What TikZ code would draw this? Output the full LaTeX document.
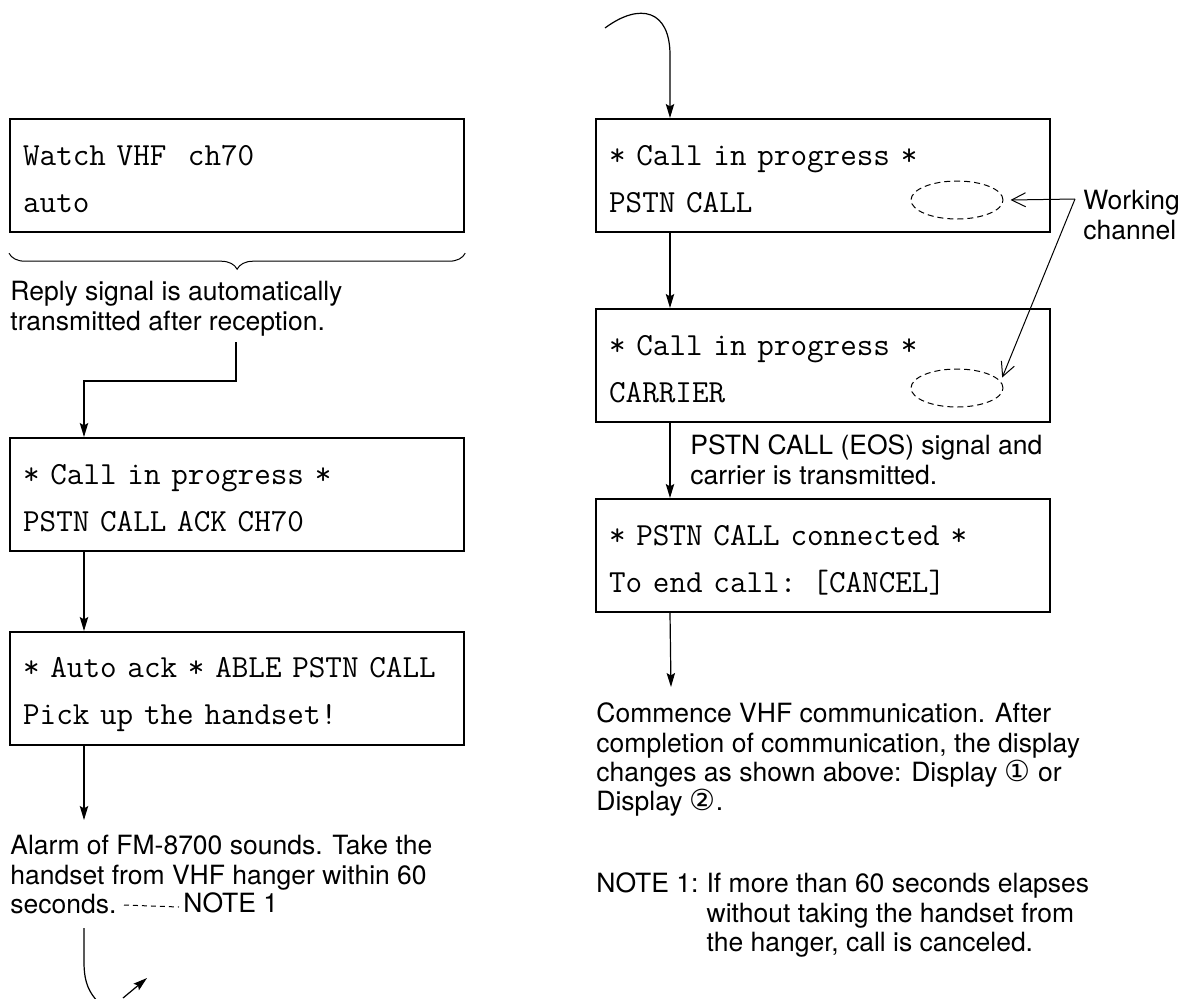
\documentclass[tikz,border=0pt]{standalone}
\usepackage{fontspec}
\setmainfont{TeX Gyre Heros}
\newfontfamily\circfont{DejaVu Sans}
\usetikzlibrary{arrows.meta,positioning,shapes.geometric,decorations.pathreplacing}

\newcommand{\lcdstrut}{\rule[-3pt]{0pt}{19pt}}
\newcommand{\lcdlines}[2]{\mbox{\lcdstrut#1}\\\mbox{\lcdstrut#2}}
\newcommand{\circnum}[1]{{\circfont\fontsize{14.5}{14.6}\selectfont#1}}

\tikzset{
  disp/.style={draw, line width=1.1pt, anchor=north west, minimum width=227pt,
    minimum height=56.5pt, text width=214pt, inner xsep=6.5pt, inner ysep=0pt,
    align=left, font=\ttfamily\fontsize{16.1}{23.5}\selectfont},
  note/.style={anchor=north west, inner sep=0pt, align=left,
    font=\fontsize{13.25}{14.6}\selectfont},
  flow/.style={line width=0.6pt, -{Stealth[length=7pt,width=4.2pt,inset=1.2pt]}},
  flowline/.style={line width=0.6pt},
  chan/.style={ellipse, draw, dash pattern=on 3pt off 2pt, line width=0.5pt,
    minimum width=46pt, minimum height=19pt, inner sep=0pt},
  chanarrow/.style={line width=0.5pt, -{Straight Barb[length=7pt,width=7pt]}},
  leader/.style={line width=0.5pt, dash pattern=on 2.5pt off 2pt}
}

\begin{document}
\begin{tikzpicture}[x=0.5pt, y=-0.5pt]
  \path[fill=white] (0,0) rectangle (1184,998);
  \useasboundingbox (0,0) rectangle (1184,998);

  % left column: displays
  \node[disp] (d1) at (9,118) {\lcdlines{Watch VHF\ \ ch70}{auto}};
  \node[disp] (d2) at (9,437) {\lcdlines{* Call in progress *}{PSTN CALL ACK CH70}};
  \node[disp] (d3) at (9,631) {\lcdlines{* Auto ack * ABLE PSTN CALL}{Pick up the handset!}};

  % right column: displays
  \node[disp] (d4) at (595,118) {\lcdlines{* Call in progress *}{PSTN CALL}};
  \node[disp] (d5) at (595,308) {\lcdlines{* Call in progress *}{CARRIER}};
  \node[disp] (d6) at (595,498) {\lcdlines{* PSTN CALL connected *}{To end call: [CANCEL]}};

  % working channel fields
  \node[chan] (e1) at (957,200) {};
  \node[chan] (e2) at (957,388) {};

  % texts
  \node[note] (reply) at (10,280) {\strut Reply signal is automatically\\transmitted after reception.};
  \node[note] (alarm) at (10,834) {\strut Alarm of FM-8700 sounds. Take the\\handset from VHF hanger within 60\\seconds.};
  \node[note] (nref) at (183,892) {\strut NOTE 1};
  \node[note] (eos) at (690,434) {\strut PSTN CALL (EOS) signal and\\carrier is transmitted.};
  \node[note] (comm) at (596,702) {\strut Commence VHF communication. After\\completion of communication, the display\\changes as shown above: Display \circnum{①} or\\Display \circnum{②}.};
  \node[note] (nt) at (596,872) {\strut NOTE 1:};
  \node[note] (ntbody) at ([xshift=3.7pt]nt.north east) {\strut If more than 60 seconds elapses\\without taking the handset from\\the hanger, call is canceled.};
  \node[note] (wlab) at (1083,189) {\strut Working\\channel};

  % brace under first display
  \draw[decorate, decoration={brace, amplitude=8pt, mirror}, line width=0.5pt]
    ([yshift=-10pt]d1.south west) -- ([yshift=-10pt]d1.south east);

  % left flow
  \coordinate (rep) at (236,342);
  \draw[flow] (rep) -- ++(0,39) -| ([xshift=37.5pt]d2.north west);
  \draw[flow] ([xshift=37.5pt]d2.south west) -- ([xshift=37.5pt]d3.north west);
  \draw[flow] ([xshift=37.5pt]d3.south west) -- ([shift={(37pt,7pt)}]alarm.north west);
  \coordinate (secend) at (124,905);
  \draw[leader] (secend) -- ([xshift=-2pt]nref.west);
  \coordinate (cout) at (84,928);
  \draw[flowline] (cout) -- (84,962) .. controls (84,984) and (90,993) .. (98,1002);
  \coordinate (cret) at (123,998);
  \draw[flow] (cret) -- (147,978);

  % right flow
  \coordinate (cin) at (605,28);
  \draw[flow] (cin) .. controls (640,2) and (670,10) .. (670,55) -- ([xshift=37.5pt]d4.north west);
  \draw[flow] ([xshift=37.5pt]d4.south west) -- ([xshift=37.5pt]d5.north west);
  \draw[flow] ([xshift=37.5pt]d5.south west) -- ([xshift=37.5pt]d6.north west);
  \draw[flow] ([xshift=37.5pt]d6.south west) -- ([shift={(37.5pt,7.5pt)}]comm.north west);

  % working channel pointers
  \coordinate (wc) at (1075,199);
  \draw[chanarrow] (wc) -- ([xshift=3.5pt]e1.east);
  \draw[chanarrow] (wc) -- ([xshift=3pt]e2.15);
\end{tikzpicture}
\end{document}
